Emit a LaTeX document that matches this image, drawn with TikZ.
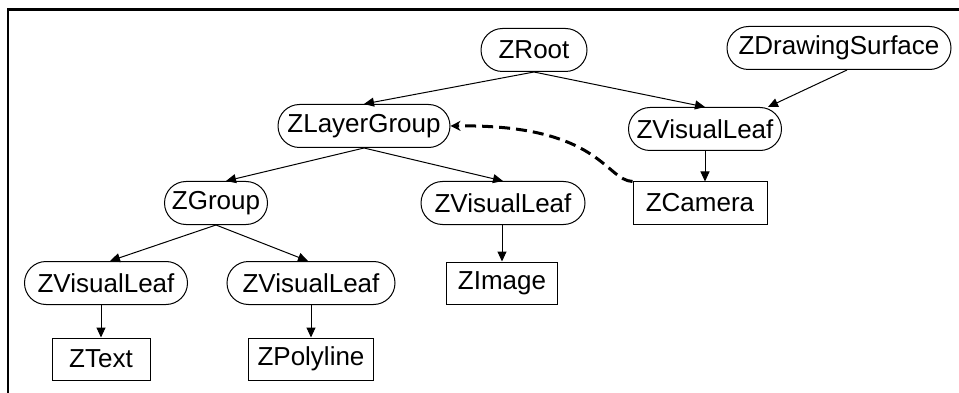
\documentclass[tikz,border=0pt]{standalone}
\usepackage{fontspec}
\setmainfont{Liberation Sans}
\usetikzlibrary{arrows.meta,shapes.misc}

\begin{document}
\begin{tikzpicture}[x=1pt, y=-1pt, line width=1pt,
    obj/.style={rounded rectangle, draw, minimum width=#1, minimum height=43pt, inner sep=0pt, font=\fontsize{26}{30}\selectfont},
    cls/.style={rectangle, draw, minimum width=#1, minimum height=42pt, inner sep=0pt, font=\fontsize{26}{30}\selectfont},
    link/.style={-{Triangle[length=10pt,width=9pt]}},
    ref/.style={-{Stealth[length=10pt,width=10pt]}, line width=3pt, dash pattern=on 11pt off 6pt}]

  \useasboundingbox (0,0) rectangle (959,393);
  \draw[line width=2.5pt] (8,393) -- (8,9.5) -- (959,9.5);

  \node[obj=106pt] (Root) at (534,50) {ZRoot};
  \node[obj=224pt] (Surf) at (839,48) {ZDrawingSurface};
  \node[obj=153pt] (CamLeaf) at (705,129) {ZVisualLeaf};
  \node[cls=134pt] (Cam) at (700,203) {ZCamera};

  \node[obj=172pt] (Layer) at (364,126) {ZLayerGroup};
  \node[obj=103pt] (Group) at (216,203) {ZGroup};
  \node[obj=164pt] (ImgLeaf) at (503,203) {ZVisualLeaf};
  \node[cls=111pt] (Img) at (502,283) {ZImage};

  \node[obj=163pt] (TextLeaf) at (106,283) {ZVisualLeaf};
  \node[obj=168pt] (PolyLeaf) at (311,283) {ZVisualLeaf};
  \node[cls=98pt] (Text) at (101,359) {ZText};
  \node[cls=125pt] (Poly) at (311,359) {ZPolyline};

  \draw[link] (Root.south) -- (Layer.north);
  \draw[link] (Root.south) -- (CamLeaf.north);
  \draw[link] ([xshift=8pt]Surf.south) -- ([xshift=63pt]CamLeaf.north);
  \draw[link] (CamLeaf.south) -- (CamLeaf.south |- Cam.north);

  \draw[link] (Layer.south) -- ([xshift=10pt]Group.north);
  \draw[link] (Layer.south) -- (ImgLeaf.north);
  \draw[link] (Img.north |- ImgLeaf.south) -- (Img.north);

  \draw[link] (Group.south) -- ([xshift=4pt]TextLeaf.north);
  \draw[link] (Group.south) -- ([xshift=-3pt]PolyLeaf.north);
  \draw[link] (Text.north |- TextLeaf.south) -- (Text.north);
  \draw[link] (PolyLeaf.south) -- (Poly.north);

  \draw[ref] (Cam.north west) .. controls (605,180) and (600,124) .. (Layer.east);

\end{tikzpicture}
\end{document}
